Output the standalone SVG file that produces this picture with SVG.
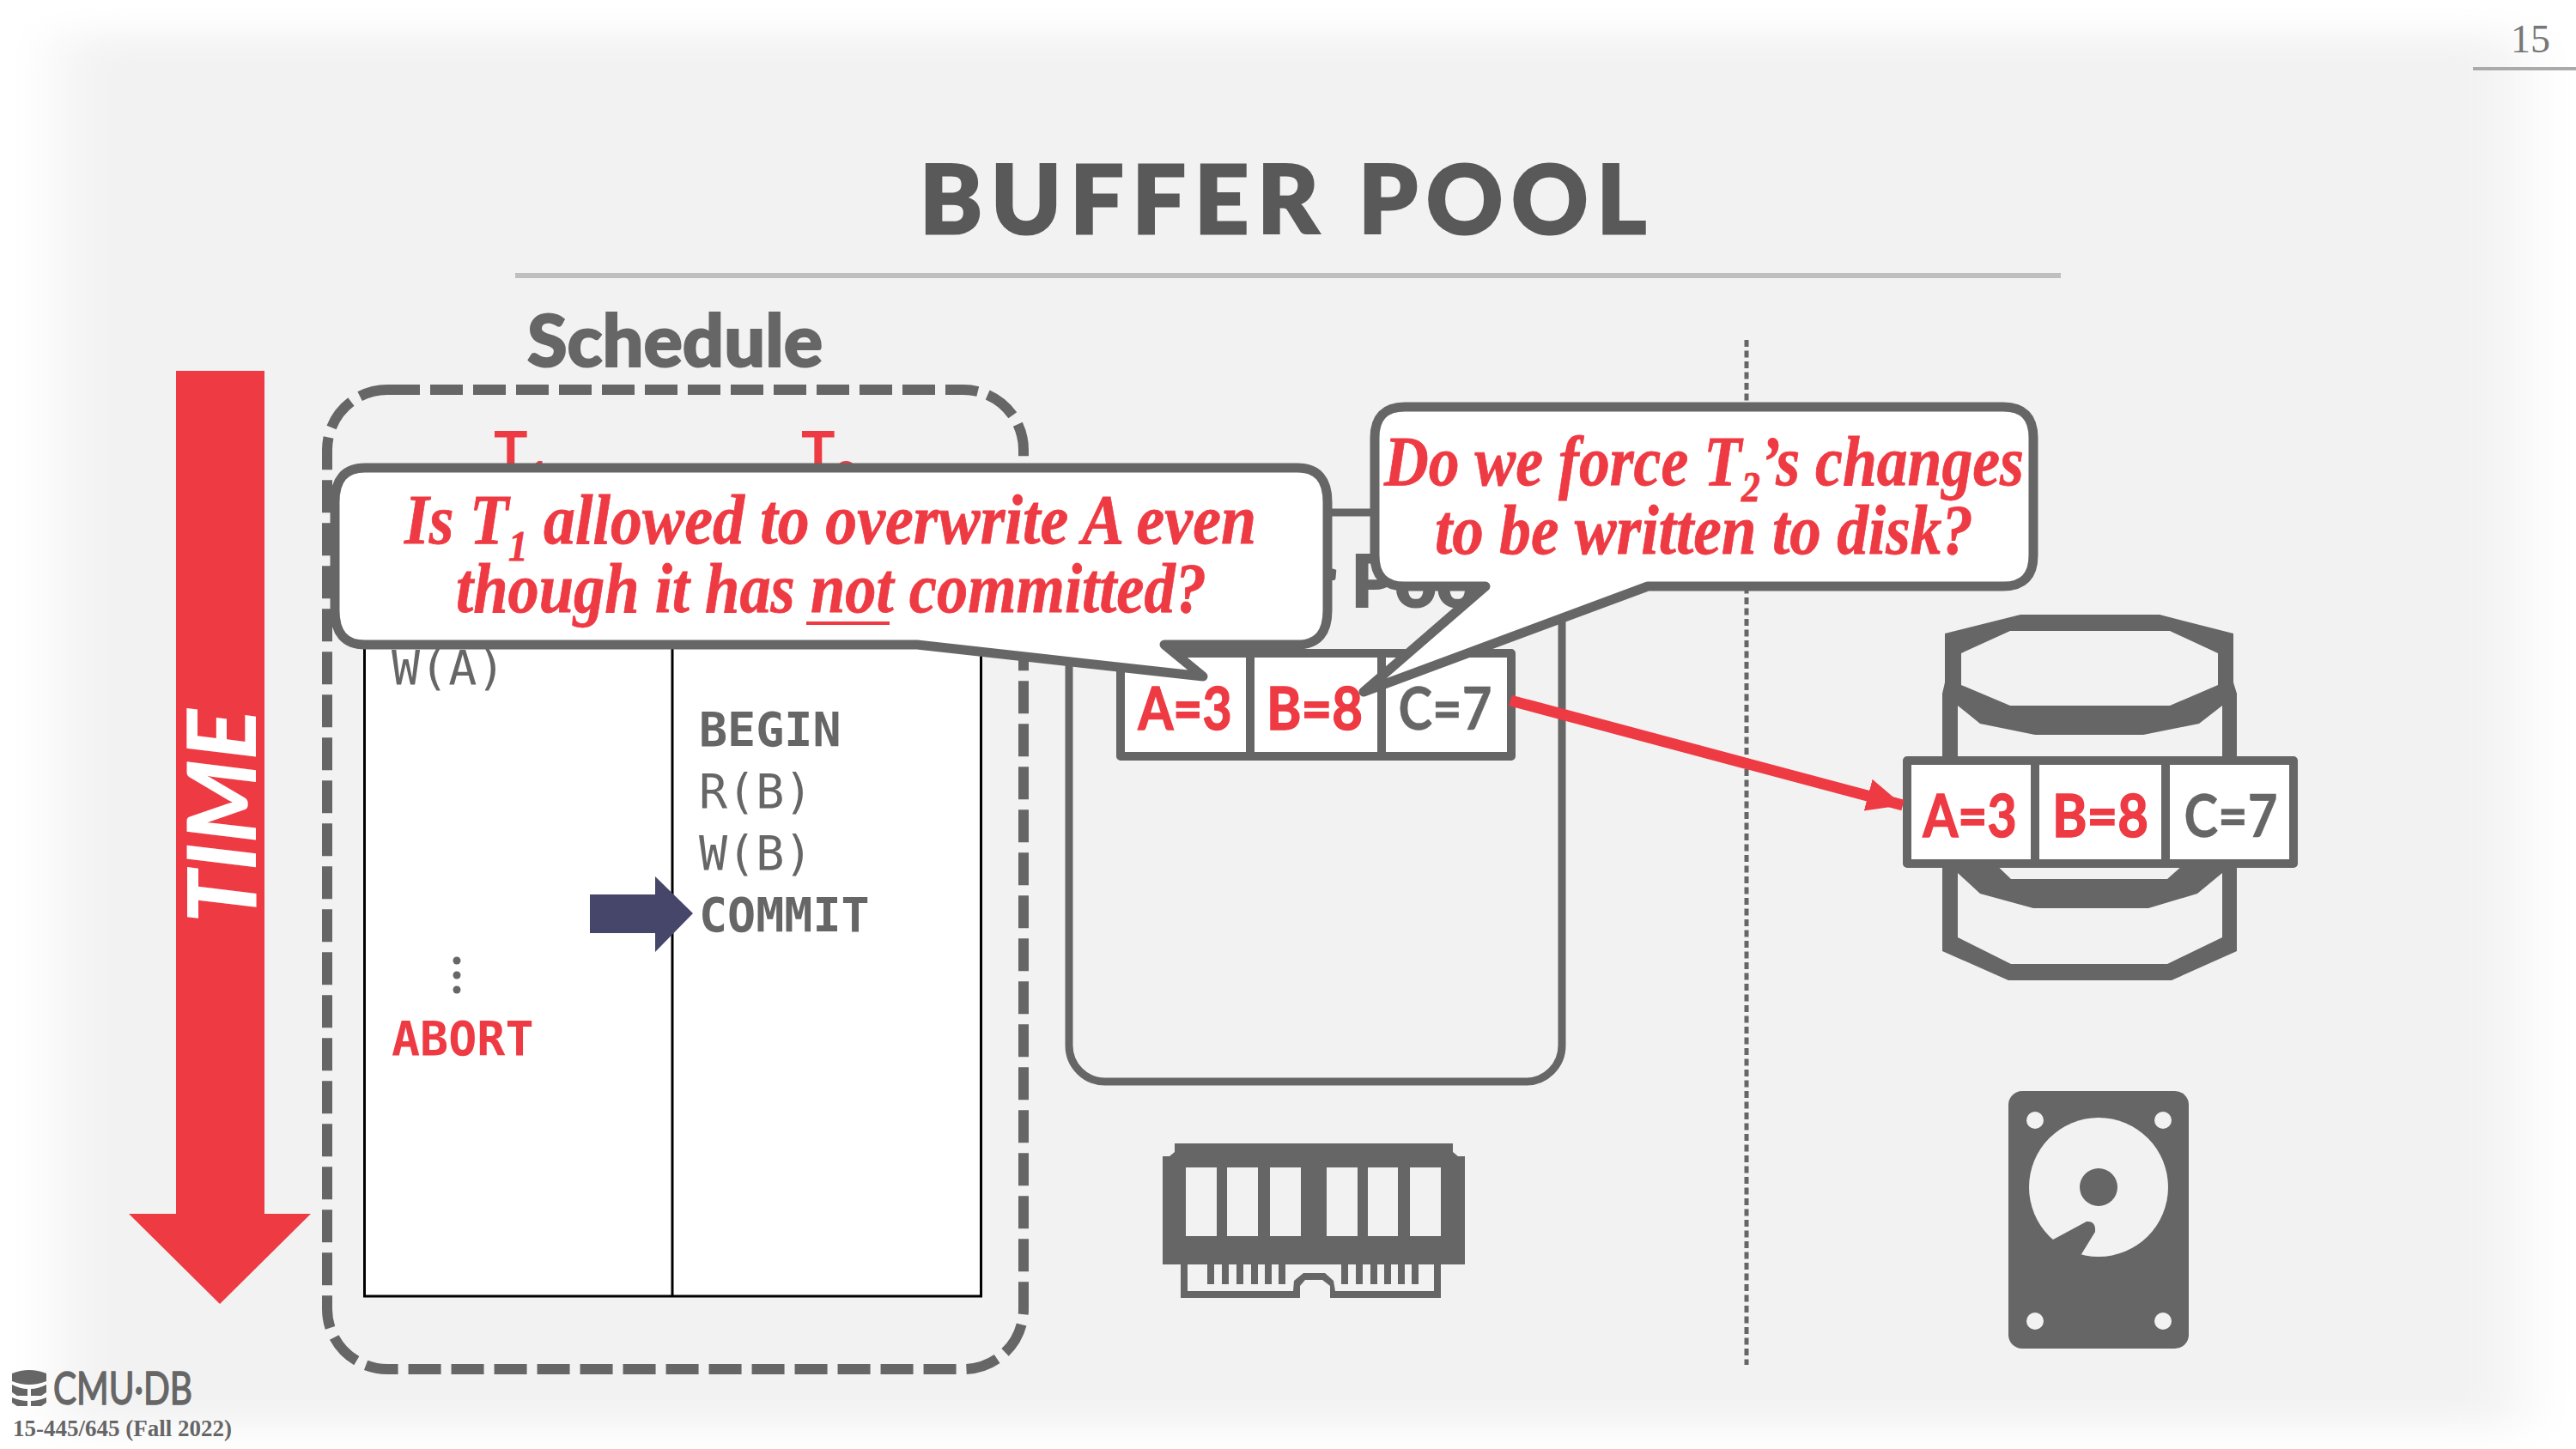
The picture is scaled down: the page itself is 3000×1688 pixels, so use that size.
<svg xmlns="http://www.w3.org/2000/svg" width="3000" height="1688" viewBox="0 0 3000 1688">
<style>
.g{fill:#666}
.r{fill:#ee3a43}
.mono{font-family:"DejaVu Sans Mono",monospace;font-size:55px}
.b{font-weight:700}
.lato{font-family:Lato,sans-serif}
.head{font-family:Lato,sans-serif;font-weight:900;font-size:84px;fill:#666;stroke:#666;stroke-width:2}
.cell{font-family:Lato,sans-serif;font-weight:700;font-size:68px;text-anchor:middle;stroke-width:1.500}
.cell.r{stroke:#ee3a43}
.cell.g{stroke:#666;stroke-width:.5}
.box{fill:#fff;stroke:#666;stroke-width:10;stroke-linejoin:round}
.call{fill:#fff;stroke:#666;stroke-width:11;stroke-linejoin:round}
.q{font-family:"Liberation Serif",serif;font-style:italic;font-weight:700;font-size:82px;fill:#ee3a43;text-anchor:middle;stroke:#ee3a43;stroke-width:.8}
.sub{font-size:50px}
</style>
<defs>
<filter id="soft" x="-10%" y="-10%" width="120%" height="120%"><feGaussianBlur stdDeviation="35 20"/></filter>
<marker id="ah" markerUnits="userSpaceOnUse" markerWidth="46" markerHeight="40" refX="42" refY="20" orient="auto"><path d="M0 0L42 20L0 38Z" fill="#ee3a43"/></marker>
</defs>
<rect width="3000" height="1688" fill="#fff"/>
<rect x="70" y="40" width="2865" height="1622" fill="#f2f2f2" filter="url(#soft)"/>

<g id="page-number">
<text x="2947" y="61" font-family="Liberation Serif,serif" font-size="46" fill="#777" text-anchor="middle">15</text>
<rect x="2880" y="78" width="120" height="4" fill="#aaa"/>
</g>
<g id="title">
<text x="1494" y="272" font-family="Lato,sans-serif" font-weight="900" font-size="110" fill="#595959" stroke="#595959" stroke-width="3" text-anchor="middle" textLength="846" lengthAdjust="spacing">BUFFER POOL</text>
<rect x="600" y="318" width="1800" height="6" fill="#bfbfbf"/>
</g>
<g id="time-arrow">
<path class="r" d="M205 432H308V1414H362L256 1519L150 1414H205Z"/>
<text transform="translate(298 951) rotate(-90)" font-family="Lato,sans-serif" font-weight="900" font-style="italic" font-size="110" fill="#fff" text-anchor="middle" textLength="249" lengthAdjust="spacingAndGlyphs">TIME</text>
</g>
<g id="schedule">
<text class="head" x="786" y="427" text-anchor="middle" textLength="344" lengthAdjust="spacingAndGlyphs">Schedule</text>
<rect x="381" y="454" width="811" height="1141" rx="70" fill="none" stroke="#666" stroke-width="12" stroke-dasharray="38 12"/>
<rect x="424.500" y="600" width="718" height="910" fill="#fff" stroke="#000" stroke-width="3"/>
<line x1="783" y1="600" x2="783" y2="1510" stroke="#000" stroke-width="3"/>
<text x="575" y="551" class="lato b r" font-size="66">T<tspan font-size="44" dy="18">1</tspan></text>
<text x="933" y="551" class="lato b r" font-size="66">T<tspan font-size="44" dy="18">2</tspan></text>
<text class="mono g" x="456" y="797">W(A)</text>
<text class="mono g b" x="814" y="869">BEGIN</text>
<text class="mono g" x="814" y="941">R(B)</text>
<text class="mono g" x="814" y="1013">W(B)</text>
<text class="mono g b" x="814" y="1085">COMMIT</text>
<circle class="g" cx="532" cy="1119" r="4.500"/><circle class="g" cx="532" cy="1136" r="4.500"/><circle class="g" cx="532" cy="1153" r="4.500"/>
<text class="mono b r" x="456" y="1229">ABORT</text>
<path id="commit-pointer" d="M687 1042H763V1021L807 1064L763 1109V1087H687Z" fill="#46466a"/>
</g>
<g id="buffer-pool">
<rect x="1245" y="597" width="574" height="663" rx="42" fill="none" stroke="#666" stroke-width="9"/>
<text class="head" x="1531" y="707" text-anchor="middle">Buffer Pool</text>
<g id="pool-pages">
<rect class="box" x="1305" y="761" width="455" height="120"/>
<line x1="1456" y1="761" x2="1456" y2="881" stroke="#666" stroke-width="10"/>
<line x1="1609" y1="761" x2="1609" y2="881" stroke="#666" stroke-width="10"/>
<text class="cell r" x="1380" y="850" textLength="109" lengthAdjust="spacingAndGlyphs">A=3</text>
<text class="cell r" x="1531" y="850" textLength="112" lengthAdjust="spacingAndGlyphs">B=8</text>
<text class="cell g" x="1683" y="850" textLength="109" lengthAdjust="spacingAndGlyphs">C=7</text>
</g>
</g>
<g id="ram">
<path class="g" fill-rule="evenodd" d="M1368 1332H1692V1342L1698 1347H1706V1473H1354V1347H1362L1368 1342ZM1381 1360V1440H1417V1360ZM1429 1360V1440H1465V1360ZM1479 1360V1440H1515V1360ZM1545 1360V1440H1581V1360ZM1593 1360V1440H1628V1360ZM1642 1360V1440H1678V1360Z"/>
<path class="g" d="M1375 1473V1512H1514V1498L1520 1491H1540L1549 1498V1512H1678V1473H1670V1504H1555L1553 1492L1543 1483H1518L1507 1492L1506 1504H1383V1473Z"/>
<path class="g" d="M1406 1473h8v23h-8zM1423 1473h8v23h-8zM1440 1473h8v23h-8zM1457 1473h8v23h-8zM1473 1473h8v23h-8zM1489 1473h8v23h-8zM1562 1473h8v23h-8zM1579 1473h8v23h-8zM1596 1473h8v23h-8zM1612 1473h8v23h-8zM1628 1473h8v23h-8zM1644 1473h8v23h-8z"/>
</g>
<line id="divider" x1="2034" y1="396" x2="2034" y2="1590" stroke="#666" stroke-width="5" stroke-dasharray="8 4.500"/>
<g id="disk">
<path class="g" fill-rule="evenodd" d="M2265 738L2353 716H2515L2601 738V795L2605 808V1108L2529 1142H2339L2262 1108V808L2265 795ZM2284 761V798L2341 822H2527L2583 798V761L2527 735H2341ZM2280 822V900H2588V822L2561 843L2496 856H2370L2306 843ZM2317 1000L2342 1024H2524L2551 1000ZM2280 1000V1092L2342 1123H2524L2588 1092V1000V1017L2559 1041L2502 1058H2368L2306 1041L2280 1017Z"/>
<g id="disk-pages">
<rect class="box" x="2221" y="886" width="450" height="120"/>
<line x1="2370" y1="886" x2="2370" y2="1006" stroke="#666" stroke-width="10"/>
<line x1="2522" y1="886" x2="2522" y2="1006" stroke="#666" stroke-width="10"/>
<text class="cell r" x="2294" y="975" textLength="109" lengthAdjust="spacingAndGlyphs">A=3</text>
<text class="cell r" x="2446" y="975" textLength="112" lengthAdjust="spacingAndGlyphs">B=8</text>
<text class="cell g" x="2598" y="975" textLength="109" lengthAdjust="spacingAndGlyphs">C=7</text>
</g>
</g>
<g id="hdd">
<rect class="g" x="2339" y="1271" width="210" height="300" rx="16"/>
<circle cx="2444" cy="1383" r="81" fill="#f2f2f2"/>
<circle class="g" cx="2444" cy="1383" r="22"/>
<path class="g" d="M2391 1444L2430 1423Q2441 1422 2440 1435L2424 1461L2400 1480L2375 1440Z"/>
<circle cx="2370" cy="1305" r="10" fill="#f2f2f2"/><circle cx="2519" cy="1305" r="10" fill="#f2f2f2"/><circle cx="2370" cy="1539" r="10" fill="#f2f2f2"/><circle cx="2519" cy="1539" r="10" fill="#f2f2f2"/>
</g>
<g id="connectors">
<line x1="1759" y1="816" x2="2216" y2="938" stroke="#ee3a43" stroke-width="13" marker-end="url(#ah)"/>
</g>
<g id="callout-1">
<path class="call" d="M425 545H1511Q1546 545 1546 585V711Q1546 751 1511 751H1356L1401 788L1068 751H425Q390 751 390 711V585Q390 545 425 545Z"/>
<text class="q" x="967" y="633" textLength="992" lengthAdjust="spacingAndGlyphs">Is T<tspan class="sub" dy="20">1</tspan><tspan dy="-20"> allowed to overwrite A even</tspan></text>
<text class="q" x="968" y="713" textLength="874" lengthAdjust="spacingAndGlyphs">though it has not committed?</text>
<rect x="939" y="724" width="97" height="4" fill="#ee3a43"/>
</g>
<g id="callout-2">
<path class="call" d="M1636 474H2333Q2368 474 2368 510V647Q2368 683 2333 683H1919L1588 806L1730 683H1636Q1601 683 1601 647V510Q1601 474 1636 474Z"/>
<text class="q" x="1984.500" y="565" textLength="745" lengthAdjust="spacingAndGlyphs">Do we force T<tspan class="sub" dy="19">2</tspan><tspan dy="-19">’s changes</tspan></text>
<text class="q" x="1984.500" y="645" textLength="627" lengthAdjust="spacingAndGlyphs">to be written to disk?</text>
</g>
<g id="logo">
<path class="g" d="M14 1600Q34 1592 54 1600V1609Q34 1617 14 1609ZM14 1613Q24 1618 32 1618V1626H20L14 1622ZM54 1613Q44 1618 36 1618V1626H48L54 1622ZM14 1628Q24 1632 32 1632V1638H20L14 1634ZM54 1628Q44 1632 36 1632V1638H48L54 1634Z"/>
<text x="62" y="1636" font-family="Lato,sans-serif" font-size="52" fill="#666" stroke="#666" stroke-width="1.500" textLength="162" lengthAdjust="spacingAndGlyphs">CMU·DB</text>
<text x="15" y="1673" font-family="Liberation Serif,serif" font-weight="700" font-size="27" fill="#666">15-445/645 (Fall 2022)</text>
</g>
</svg>
